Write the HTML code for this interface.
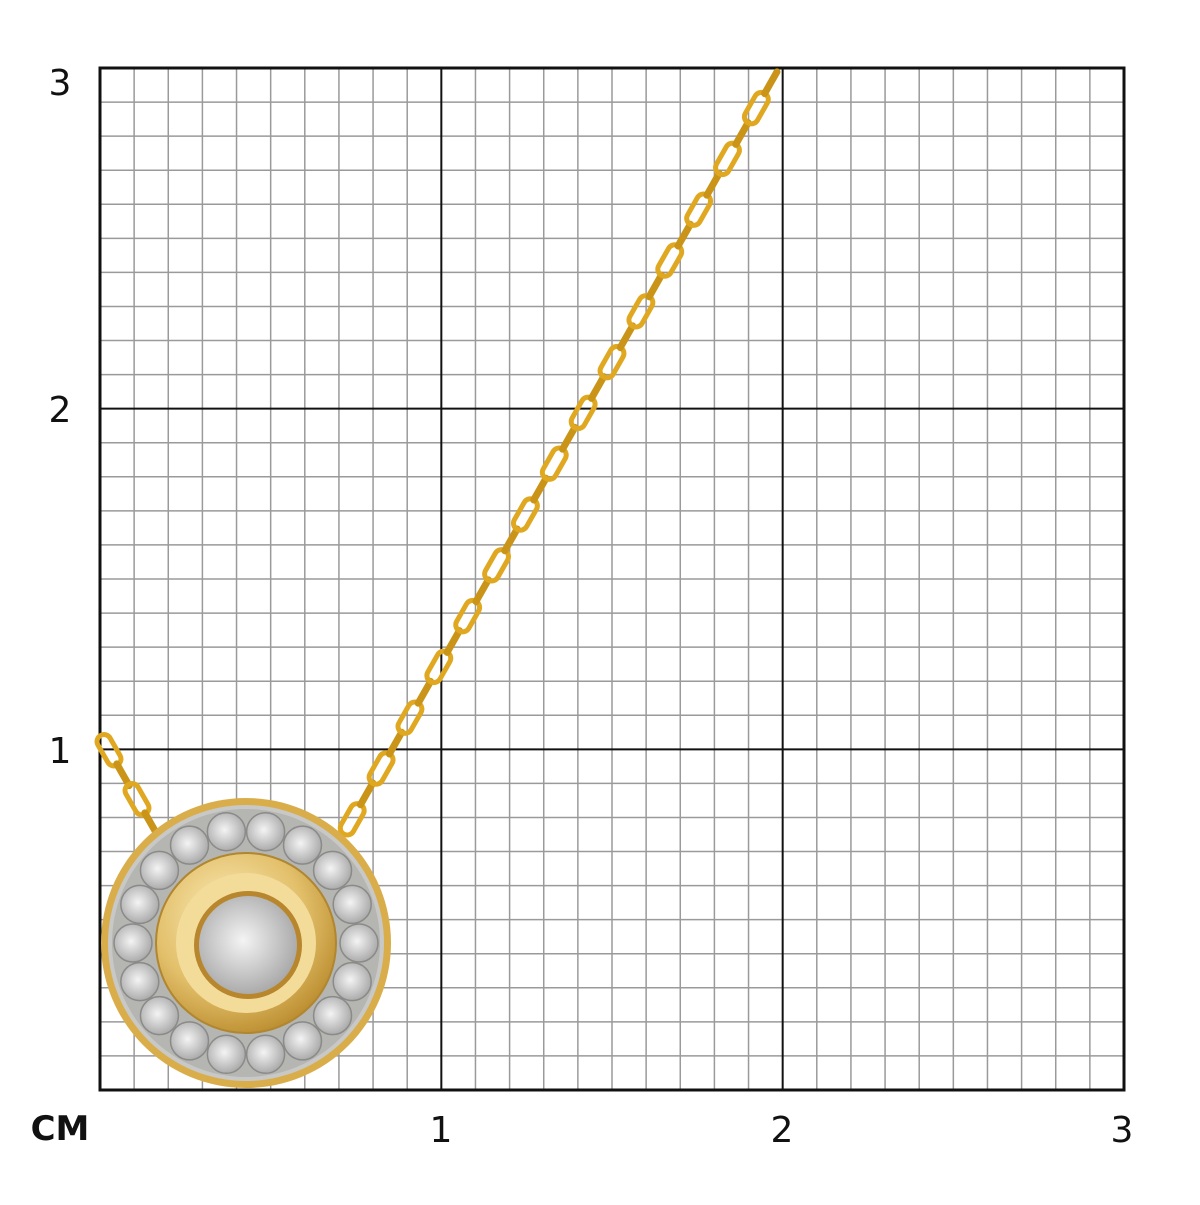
<!DOCTYPE html>
<html><head><meta charset="utf-8"><style>
body{margin:0;background:#fff;width:1200px;height:1200px;overflow:hidden}
text{font-family:"DejaVu Sans","Liberation Sans",sans-serif;fill:#111}
</style></head><body>
<svg id="s" width="1200" height="1200" xmlns="http://www.w3.org/2000/svg">
<defs>
<radialGradient id="gold" cx="40%" cy="35%" r="70%"><stop offset="0" stop-color="#fbecb8"/><stop offset="0.6" stop-color="#e2bf6a"/><stop offset="1" stop-color="#b98a2c"/></radialGradient>
<radialGradient id="stone" cx="45%" cy="45%" r="60%"><stop offset="0" stop-color="#f4f4f4"/><stop offset="1" stop-color="#a5a5a5"/></radialGradient>
</defs>
<g id="grid"></g>
<g id="chain"></g>
<g id="pend">
<circle cx="246" cy="943" r="145" fill="#d9ad4a"/>
<circle cx="246" cy="943" r="138" fill="#c8c8c6"/>
<circle cx="246" cy="943" r="134" fill="#b5b5b2"/>
<g id="small"></g>
<circle cx="246" cy="943" r="90" fill="url(#gold)" stroke="#b0862e" stroke-width="2"/>
<circle cx="246" cy="943" r="70" fill="#f3dc9a"/>
<circle cx="248" cy="945" r="54" fill="#b8862c"/>
<circle cx="248" cy="945" r="49" fill="url(#stone)"/>
</g>
<text x="60" y="95" font-size="36" text-anchor="middle">3</text>
<text x="60" y="422" font-size="36" text-anchor="middle">2</text>
<text x="60" y="763" font-size="36" text-anchor="middle">1</text>
<text x="60" y="1140" font-size="34" font-weight="bold" text-anchor="middle">CM</text>
<text x="441" y="1142" font-size="36" text-anchor="middle">1</text>
<text x="782" y="1142" font-size="36" text-anchor="middle">2</text>
<text x="1122" y="1142" font-size="36" text-anchor="middle">3</text>
</svg>
<script>
var NS="http://www.w3.org/2000/svg";
function el(p,t,a){var e=document.createElementNS(NS,t);for(var k in a)e.setAttribute(k,a[k]);p.appendChild(e);return e;}
var g=document.getElementById("grid"),x0=100,y0=68,w=1024,h=1022;
for(var i=1;i<30;i++){if(i%10==0)continue;var x=x0+w*i/30,y=y0+h*i/30;
el(g,"line",{x1:x,y1:y0,x2:x,y2:y0+h,stroke:"#9a9a9a","stroke-width":1.5});
el(g,"line",{x1:x0,y1:y,x2:x0+w,y2:y,stroke:"#9a9a9a","stroke-width":1.5});}
for(var i=1;i<3;i++){var x=x0+w*i/3,y=y0+h*i/3;
el(g,"line",{x1:x,y1:y0,x2:x,y2:y0+h,stroke:"#111","stroke-width":2});
el(g,"line",{x1:x0,y1:y,x2:x0+w,y2:y,stroke:"#111","stroke-width":2});}
el(g,"rect",{x:x0,y:y0,width:w,height:h,fill:"none",stroke:"#111","stroke-width":3});
var c=document.getElementById("chain");
function chain(ax,ay,bx,by){var dx=bx-ax,dy=by-ay,L=Math.hypot(dx,dy),ang=Math.atan2(dy,dx)*180/Math.PI,n=Math.round(L/29);
for(var i=0;i<n;i++){var t=(i+0.5)/n,cx=ax+dx*t,cy=ay+dy*t;
if(i%2==0)el(c,"rect",{x:-17,y:-7,width:34,height:14,rx:7,fill:"none",stroke:"#e0a820","stroke-width":5,transform:"translate("+cx+","+cy+") rotate("+ang+")"});
else el(c,"rect",{x:-16,y:-3.5,width:32,height:7,rx:3.5,fill:"#c99418",transform:"translate("+cx+","+cy+") rotate("+ang+")"});}}
chain(345,832,778,70);chain(102,738,158,836);
var s=document.getElementById("small");
for(var i=0;i<18;i++){var a=i/18*2*Math.PI,cx=246+113*Math.cos(a),cy=943+113*Math.sin(a);
el(s,"circle",{cx:cx,cy:cy,r:19,fill:"url(#stone)",stroke:"#8a8a88","stroke-width":1.5});}
</script>
</body></html>
